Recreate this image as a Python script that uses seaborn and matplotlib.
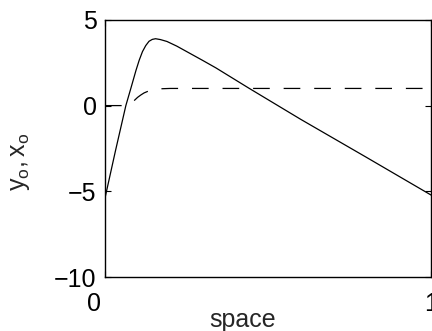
import matplotlib
matplotlib.use('Agg')
import matplotlib.pyplot as plt
import matplotlib.transforms as mtransforms
import seaborn as sns

# values
x_solid = [0.000, 0.032, 0.064, 0.080, 0.095, 0.105, 0.115, 0.125, 0.135, 0.145,
           0.155, 0.170, 0.190, 0.220, 0.260, 0.300, 0.340, 0.440, 0.600, 0.800, 1.000]
y_solid = [-5.4, -2.65, 0.0, 1.05, 2.05, 2.65, 3.15, 3.5, 3.75, 3.86,
           3.9, 3.85, 3.74, 3.47, 3.05, 2.63, 2.2, 1.03, -0.8, -3.0, -5.22]

x_dash = [0.000, 0.060, 0.070, 0.080, 0.090, 0.100, 0.110, 0.120, 0.135, 0.150,
          0.170, 0.200, 1.000]
y_dash = [0.0, 0.0, 0.05, 0.15, 0.3, 0.48, 0.62, 0.74, 0.86, 0.93,
          0.98, 1.0, 1.0]

x_ticks = [0, 1]
y_ticks = [-10, -5, 0, 5]

sns.set_style('ticks')
plt.rcParams['font.family'] = ['Liberation Sans', 'DejaVu Sans']
plt.rcParams['mathtext.fontset'] = 'custom'
plt.rcParams['mathtext.rm'] = 'Liberation Sans'
plt.rcParams['lines.scale_dashes'] = False

fig = plt.figure(figsize=(4.32, 3.31), dpi=100)
ax = fig.add_axes([0.243, 0.163, 0.755, 0.777])

sns.lineplot(x=x_solid, y=y_solid, color='k', lw=0.9, sort=False, estimator=None, ax=ax)
sns.lineplot(x=x_dash, y=y_dash, color='k', lw=0.9, sort=False, estimator=None, ax=ax,
             dashes=False)
ax.lines[-1].set_dashes((12, 10))

ax.set_xlim(0, 1)
ax.set_ylim(-10, 5)
ax.set_xticks(x_ticks)
ax.set_yticks(y_ticks)
ax.set_xticklabels(['0', '1'])
ax.set_yticklabels(['\u221210', '\u22125', '0', '5'])

ax.tick_params(direction='in', length=4, width=0.8, labelsize=18, pad=6,
               top=True, right=True, colors='k')
ax.tick_params(axis='x', pad=11)
for s in ax.spines.values():
    s.set_visible(True)
    s.set_linewidth(1.0)
    s.set_color('k')

# shift the "0" x label left like the reference
lbl0 = ax.get_xticklabels()[0]
lbl0.set_transform(lbl0.get_transform() + mtransforms.ScaledTranslation(-11 / 100, 0, fig.dpi_scale_trans))

ax.set_xlabel('space', fontsize=18)
ax.xaxis.set_label_coords(0.423, -0.12)
ax.set_ylabel(r'$\mathregular{y_o,x_o}$', fontsize=18)
ax.yaxis.set_label_coords(-0.225, 0.45)

fig.savefig('out.png', dpi=100)
